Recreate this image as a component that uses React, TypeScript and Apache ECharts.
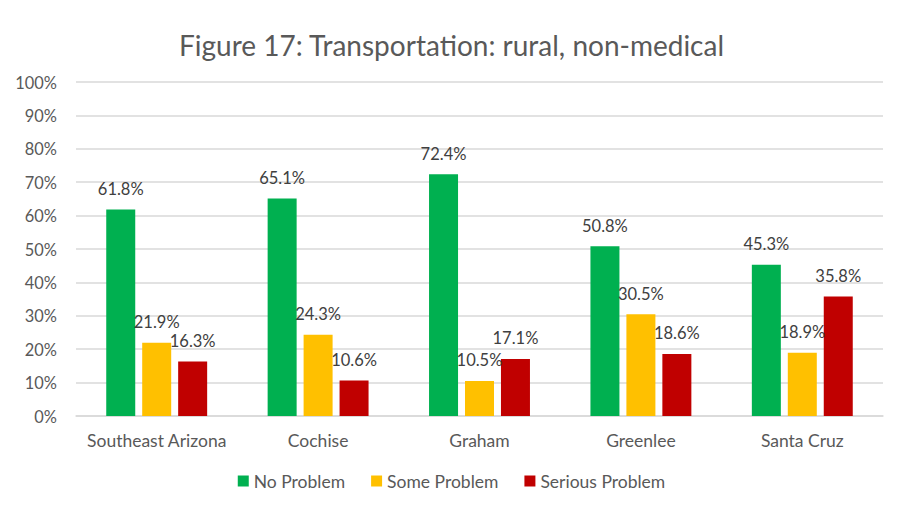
import React, { useEffect, useRef } from "react";
import * as echarts from "echarts";

const categories = ["Southeast Arizona", "Cochise", "Graham", "Greenlee", "Santa Cruz"];
const noProblem = [61.8, 65.1, 72.4, 50.8, 45.3];
const someProblem = [21.9, 24.3, 10.5, 30.5, 18.9];
const seriousProblem = [16.3, 10.6, 17.1, 18.6, 35.8];
const seriesNames = ["No Problem", "Some Problem", "Serious Problem"];
const colors = ["#00b050", "#ffc000", "#c00000"];
const titleText = "Figure 17: Transportation: rural, non-medical";

const FONT = "Lato, 'Open Sans', sans-serif";

export default function App() {
  const ref = useRef<HTMLDivElement>(null);
  useEffect(() => {
    if (!ref.current) return;
    const chart = echarts.init(ref.current, null, { renderer: "svg" });
    const dataSets = [noProblem, someProblem, seriousProblem];
    chart.setOption({
      animation: false,
      backgroundColor: "#ffffff",
      textStyle: { fontFamily: FONT },
      title: {
        text: titleText,
        left: "center",
        top: 26,
        textStyle: { fontFamily: FONT, fontSize: 28, fontWeight: "normal", color: "#595959" },
      },
      graphic: [
        {
          type: "rect",
          shape: { x: 3.5, y: 3.5, width: 896, height: 509 },
          style: { fill: "none", stroke: "#d9d9d9", lineWidth: 1 },
          silent: true,
        },
      ],
      legend: {
        bottom: 19,
        left: "center",
        itemWidth: 11,
        itemHeight: 11,
        itemGap: 26,
        icon: "rect",
        textStyle: { fontFamily: FONT, fontSize: 17.5, color: "#595959" },
        data: seriesNames,
      },
      grid: { left: 76, right: 20, top: 82, bottom: 98, containLabel: false },
      xAxis: {
        type: "category",
        data: categories,
        axisLine: { lineStyle: { color: "#d9d9d9", width: 1.5 } },
        axisTick: { show: false },
        axisLabel: { interval: 0, fontFamily: FONT, fontSize: 17.5, color: "#595959", margin: 15 },
      },
      yAxis: {
        type: "value",
        min: 0,
        max: 100,
        interval: 10,
        axisLine: { show: false },
        axisTick: { show: false },
        axisLabel: {
          fontFamily: FONT,
          fontSize: 16.4,
          color: "#595959",
          margin: 19,
          formatter: (v: number) => v + "%",
        },
        splitLine: { lineStyle: { color: "#d9d9d9", width: 1.5 } },
      },
      series: seriesNames.map((name, i) => ({
        name,
        type: "bar",
        data: dataSets[i],
        barWidth: 29,
        barGap: "24%",
        itemStyle: { color: colors[i] },
        label: {
          show: true,
          position: "top",
          distance: 12,
          fontFamily: FONT,
          fontSize: 16.5,
          color: "#404040",
          formatter: (p: any) => p.value.toFixed(1) + "%",
        },
      })),
    });
    return () => chart.dispose();
  }, []);
  return <div ref={ref} style={{ width: 903, height: 514, margin: -8 }} />;
}
